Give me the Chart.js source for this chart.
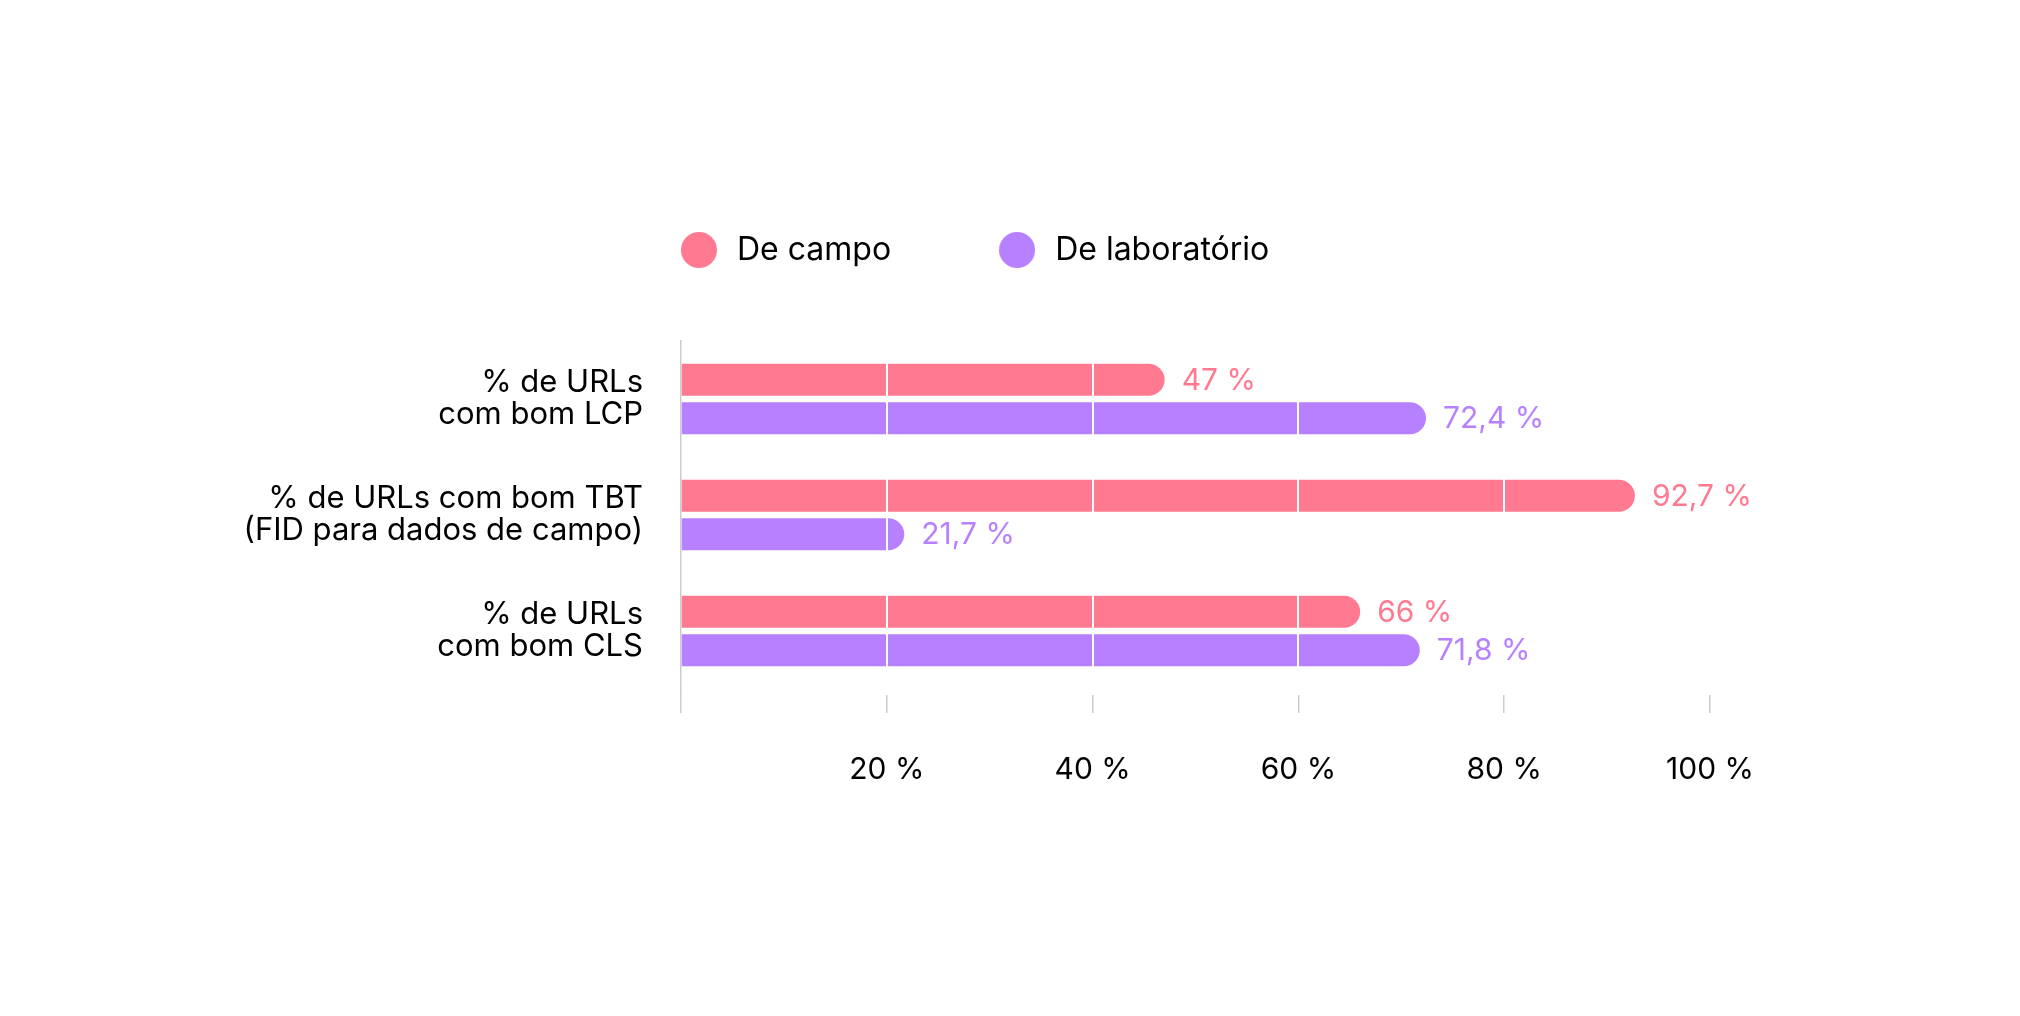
<!DOCTYPE html>
<html>
<head>
<meta charset="utf-8">
<script src="https://cdn.jsdelivr.net/npm/chart.js@4/dist/chart.umd.min.js"></script>
<style>
  html, body { margin: 0; padding: 0; background: #fff; }
</style>
</head>
<body>
<canvas id="grafico" width="2020" height="1016"></canvas>
<script>
// datos
const categorias = [
    ['% de URLs', 'com bom LCP'],
    ['% de URLs com bom TBT', '(FID para dados de campo)'],
    ['% de URLs', 'com bom CLS']
];
const deCampo = [47, 92.7, 66];
const deLaboratorio = [72.4, 21.7, 71.8];
const ticksX = [0, 20, 40, 60, 80, 100];

const ROSA = '#ff7990';
const LILAS = '#b780ff';
const FONTE = 'Inter, "Noto Sans", sans-serif';
const PAD_LEGENDA = 104;

function circulo(cor) {
    const c = document.createElement('canvas');
    c.width = 36;
    c.height = 36;
    const g = c.getContext('2d');
    g.fillStyle = cor;
    g.beginPath();
    g.arc(18, 18, 18, 0, Math.PI * 2);
    g.fill();
    return c;
}

function formatar(v) {
    return String(v).replace('.', ',') + ' %';
}

// espaco entre a legenda e o grafico, e legenda alinhada com o eixo
const margemLegenda = {
    id: 'margemLegenda',
    beforeInit(chart) {
        const fitOriginal = chart.legend.fit;
        chart.legend.fit = function fit() {
            fitOriginal.bind(chart.legend)();
            this.height = 211;
        };
    },
    afterLayout(chart) {
        const area = chart.chartArea;
        chart.legend.left = area.left - 4 - PAD_LEGENDA;
        chart.legend.right = area.right;
    }
};

// linhas brancas por cima das barras + rotulos de valor
const linhasEValores = {
    id: 'linhasEValores',
    afterDatasetsDraw(chart) {
        const ctx = chart.ctx;
        const area = chart.chartArea;
        const x = chart.scales.x;
        ctx.save();
        ctx.strokeStyle = '#ffffff';
        ctx.lineWidth = 2;
        ticksX.forEach(function (t) {
            if (t === 0) return;
            const px = Math.round(x.getPixelForValue(t));
            ctx.beginPath();
            ctx.moveTo(px, area.top);
            ctx.lineTo(px, area.bottom);
            ctx.stroke();
        });

        ctx.font = '30px ' + FONTE;
        ctx.textBaseline = 'middle';
        ctx.textAlign = 'left';
        chart.data.datasets.forEach(function (ds, i) {
            const meta = chart.getDatasetMeta(i);
            ctx.fillStyle = ds.backgroundColor;
            meta.data.forEach(function (bar, j) {
                ctx.fillText(formatar(ds.data[j]), bar.x + 17, bar.y + 1);
            });
        });
        ctx.restore();
    }
};

const chartData = {
    labels: categorias,
    datasets: [{
        label: 'De campo',
        data: deCampo,
        backgroundColor: ROSA,
        pointStyle: circulo(ROSA),
        borderRadius: 16,
        borderSkipped: 'start',
        barPercentage: 0.83,
        categoryPercentage: 0.663
    }, {
        label: 'De laboratório',
        data: deLaboratorio,
        backgroundColor: LILAS,
        pointStyle: circulo(LILAS),
        borderRadius: 16,
        borderSkipped: 'start',
        barPercentage: 0.83,
        categoryPercentage: 0.663
    }]
};

new Chart(document.getElementById('grafico'), {
    type: 'bar',
    data: chartData,
    options: {
        responsive: false,
        animation: false,
        indexAxis: 'y',
        layout: {
            padding: { left: 0, right: 310, top: 130, bottom: 189 }
        },
        plugins: {
            tooltip: { enabled: false },
            legend: {
                position: 'top',
                align: 'start',
                labels: {
                    usePointStyle: true,
                    pointStyleWidth: 44,
                    padding: PAD_LEGENDA,
                    color: '#000',
                    font: { family: FONTE, size: 32 }
                }
            }
        },
        scales: {
            x: {
                min: 0,
                max: 100,
                afterBuildTicks: function (scale) {
                    scale.ticks = ticksX.map(function (v) { return { value: v }; });
                },
                border: { display: false },
                grid: {
                    drawOnChartArea: false,
                    drawTicks: true,
                    tickLength: 24,
                    color: '#cccccc',
                    lineWidth: 1.5,
                    tickBorderDash: function (c) {
                        return c.tick && c.tick.value === 0 ? [] : [0, 6, 18, 0];
                    }
                },
                ticks: {
                    padding: 39,
                    color: '#000',
                    font: { family: FONTE, size: 30 },
                    callback: function (v) { return v === 0 ? '' : v + ' %'; }
                }
            },
            y: {
                afterFit: function (scale) { scale.width = 681; },
                grid: { display: false, drawTicks: false },
                border: { display: true, color: '#cccccc', width: 1.5 },
                ticks: {
                    padding: 38,
                    color: '#000',
                    font: { family: FONTE, size: 31, lineHeight: 1.03 }
                }
            }
        }
    },
    plugins: [margemLegenda, linhasEValores]
});
</script>
</body>
</html>
